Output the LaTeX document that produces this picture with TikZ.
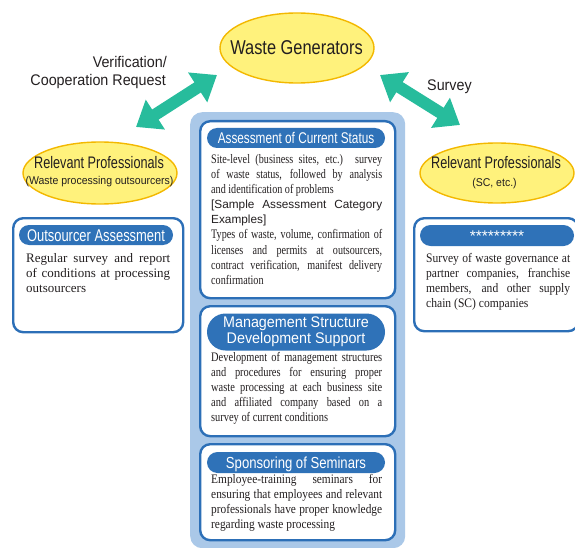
\documentclass[tikz,border=0pt]{standalone}
\usepackage{fontspec}
\setmainfont{Liberation Serif}
\setsansfont{Liberation Sans}
\newfontfamily\csans[FakeStretch=0.76]{Liberation Sans}
\newfontfamily\nsans[FakeStretch=0.82]{Liberation Sans}
\newfontfamily\wsans[FakeStretch=0.93]{Liberation Sans}
\newfontfamily\rmA[FakeStretch=0.78]{Liberation Serif}
\newfontfamily\rmB[FakeStretch=0.80]{Liberation Serif}
\newfontfamily\rmC[FakeStretch=0.875]{Liberation Serif}
\newfontfamily\rmD[FakeStretch=0.89]{Liberation Serif}
\newfontfamily\rmE[FakeStretch=1.0]{Liberation Serif}
\usetikzlibrary{shapes.geometric,arrows.meta}
\definecolor{ylfill}{HTML}{FFF27C}
\definecolor{yldraw}{HTML}{F3B800}
\definecolor{teal}{HTML}{27BC9C}
\definecolor{lblue}{HTML}{AAC8E8}
\definecolor{bblue}{HTML}{2C6FB7}
\definecolor{pblue}{HTML}{2F72B8}
\definecolor{ink}{HTML}{231F20}
\begin{document}
\begin{tikzpicture}[x=1pt,y=-1pt,
  ell/.style={ellipse, draw=yldraw, fill=ylfill, line width=1.4pt, inner sep=0pt},
  tarrow/.style={draw=teal, line width=12pt,
     {Triangle[length=23pt,width=34pt]}-{Triangle[length=23pt,width=34pt]}},
  lab/.style={text=ink, inner sep=0pt},
  box/.style={draw=bblue, fill=white, line width=2.4pt, rounded corners=10pt, inner sep=0pt, anchor=north west},
  pill/.style={fill=pblue, text=white, inner sep=0pt, text depth=0pt},
  body/.style={anchor=north west, inner sep=0pt, align=justify, text=ink,
     font={\fontsize{13}{15.1}\selectfont#1\tolerance=10000\hyphenpenalty=10000\parindent=0pt}}
]
\useasboundingbox (0,0) rectangle (575,548);

% central panel
\node[fill=lblue, rounded corners=12pt, minimum width=215pt, minimum height=436pt, anchor=north west, inner sep=0pt] (panel) at (190,112) {};

% ellipses
\node[ell, minimum width=154pt, minimum height=70pt] (gen) at (297,48) {};
\node[lab, anchor=base, font={\fontsize{20}{22}\nsans}] (gentext) at (296.5,55) {Waste Generators};

\node[ell, minimum width=154pt, minimum height=62pt] (lprof) at (100,173) {};
\node[lab, anchor=base, font={\fontsize{16.7}{18}\csans}] (lproft) at (99,169) {Relevant Professionals};
\node[lab, anchor=base, font={\fontsize{11.3}{13}\wsans}] (lprofs) at (99.5,185) {(Waste processing outsourcers)};

\node[ell, minimum width=154pt, minimum height=60pt] (rprof) at (497,173) {};
\node[lab, anchor=base, font={\fontsize{16.7}{18}\csans}] (rproft) at (496,169) {Relevant Professionals};
\node[lab, anchor=base, font={\fontsize{11.3}{13}\wsans}] (rprofs) at (494.5,186) {(SC, etc.)};

% arrows
\coordinate (la) at (136,127);
\coordinate (lb) at (217,75);
\coordinate (ra) at (380,75);
\coordinate (rb) at (460,125);
\draw[tarrow] (la) -- (lb);
\draw[tarrow] (ra) -- (rb);

\node[lab, anchor=base east, font={\fontsize{15.4}{17}\wsans}] (ver1) at (167,68) {Verification/};
\node[lab, anchor=base east, font={\fontsize{15.4}{17}\wsans}] (ver2) at (166,86) {Cooperation Request};
\node[lab, anchor=base west, font={\fontsize{15.4}{17}\wsans}] (surv) at (427,91) {Survey};

% left box
\node[box, minimum width=170pt, minimum height=114pt] (lbox) at (12,217) {};
\node[pill, minimum width=154pt, minimum height=20pt, rounded corners=10pt, text height=12.2pt, font={\fontsize{17}{18}\csans}] (lpill) at (96,235) {Outsourcer Assessment};
\node[body=\rmE, text width=144pt] (lbody) at (26,253.2) {Regular survey and report\linebreak of conditions at processing\linebreak outsourcers};

% right box
\node[box, minimum width=164pt, minimum height=113pt] (rbox) at (413,217) {};
\node[pill, minimum width=154pt, minimum height=21pt, rounded corners=10.5pt, text height=11pt, font={\fontsize{15.5}{17}\sffamily}] (rpill) at (497,235.5) {*********};
\node[body=\rmD, text width=144pt] (rbody) at (426,253.2) {Survey of waste governance at\linebreak partner companies, franchise\linebreak members, and other supply\linebreak chain (SC) companies};

% box 1
\node[box, minimum width=195pt, minimum height=177pt] (box1) at (199,120) {};
\node[pill, minimum width=178pt, minimum height=20pt, rounded corners=10pt, text height=11.1pt, font={\fontsize{15.5}{17}\csans}] (pill1) at (296,138) {Assessment of Current Status};
\node[body=\rmA, text width=171pt] (body1) at (211,154.2) {Site-level (business sites, etc.) survey\linebreak of waste status, followed by analysis\linebreak and identification of problems\par
{\fontsize{11.8}{15.1}\sffamily [Sample Assessment Category\linebreak Examples]\par}
Types of waste, volume, confirmation of\linebreak licenses and permits at outsourcers,\linebreak contract verification, manifest delivery\linebreak confirmation};

% box 2
\node[box, minimum width=195pt, minimum height=130pt] (box2) at (199,305) {};
\node[pill, minimum width=178pt, minimum height=37pt, rounded corners=18.5pt, text depth=, align=center, font={\fontsize{15.4}{16}\wsans}] (pill2) at (296,332) {Management Structure\\Development Support};
\node[body=\rmB, text width=171pt] (body2) at (211,352.2) {Development of management structures\linebreak and procedures for ensuring proper\linebreak waste processing at each business site\linebreak and affiliated company based on a\linebreak survey of current conditions};

% box 3
\node[box, minimum width=195pt, minimum height=96pt] (box3) at (199,443) {};
\node[pill, minimum width=178pt, minimum height=21pt, rounded corners=10.5pt, text height=11.5pt, font={\fontsize{16}{17}\nsans}] (pill3) at (296,462.5) {Sponsoring of Seminars};
\node[body=\rmC, text width=171pt] (body3) at (211,474.2) {Employee-training seminars for\linebreak ensuring that employees and relevant\linebreak professionals have proper knowledge\linebreak regarding waste processing};
\end{tikzpicture}
\end{document}
